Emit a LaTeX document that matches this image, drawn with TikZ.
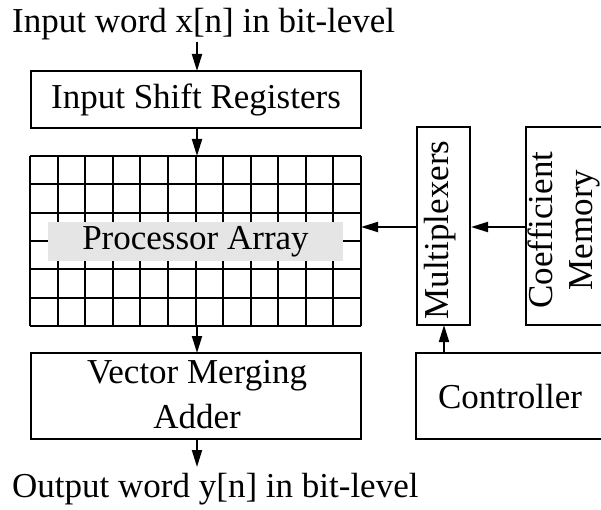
\documentclass[tikz,border=0pt]{standalone}
\usepackage{fontspec}
\setmainfont{Liberation Serif}
\usetikzlibrary{arrows.meta}
\begin{document}
\begin{tikzpicture}[x=1pt,y=-1pt,
  every node/.style={font=\fontsize{35}{45}\selectfont, inner sep=0pt},
  blk/.style={draw, line width=2pt, rectangle},
  conn/.style={line width=2pt, -{Triangle[length=17pt,width=10pt]}},
  gridline/.style={line width=2pt}]
\useasboundingbox (0,0) rectangle (601,510);
\clip (0,0) rectangle (601,510);

% input label
\node[anchor=base west] (inp) at (12,33) {Input word x[n] in bit-level};
\coordinate (inpb) at (197,42);

% input shift registers
\node[blk, minimum width=330pt, minimum height=57pt] (isr) at (196,99.5) {};
\node at (196,99.5) {Input Shift Registers};

% processor array grid
\node[minimum width=331pt, minimum height=170pt] (pa) at (195.5,241) {};
\foreach \i in {0,...,12}
  \draw[gridline] ({30+\i*331/12},156) -- ({30+\i*331/12},326);
\foreach \j in {0,...,6}
  \draw[gridline] (30,{156+\j*170/6}) -- (361,{156+\j*170/6});
\node[fill=black!10, minimum width=295pt, minimum height=39pt] (palabel) at (195.5,241.5) {Processor Array};

% multiplexers and coefficient memory
\node[blk, minimum width=53pt, minimum height=198pt] (mux) at (443.5,226) {};
\node[rotate=90, anchor=base] at (448,230) {Multiplexers};
\node[blk, minimum width=80pt, minimum height=198pt] (cm) at (566,226) {};
\node[rotate=90, anchor=base] at (552,230) {Coefficient};
\node[rotate=90, anchor=base] at (592,230) {Memory};

% controller
\node[blk, minimum width=190pt, minimum height=86pt] (ctrl) at (511,396) {};
\node[anchor=base] at (510,408) {Controller};

% vector merging adder
\node[blk, minimum width=330pt, minimum height=86pt] (vma) at (196,396) {};
\node[anchor=base] at (197,383) {Vector Merging};
\node[anchor=base] at (197,428) {Adder};

% output label
\node[anchor=base west] (outp) at (12,497) {Output word y[n] in bit-level};
\coordinate (outt) at (197,467);

% connectors
\draw[conn] (inpb) -- (197,71);
\draw[conn] (197,128) -- (197,156);
\draw[conn] (197,326) -- (197,353);
\draw[conn] (197,439) -- (outt);
\draw[conn] (mux.west |- 0,227) -- (361,227);
\draw[conn] (cm.west |- 0,227) -- (mux.east |- 0,227);
\draw[conn] (444,353) -- (444,325);
\end{tikzpicture}
\end{document}
